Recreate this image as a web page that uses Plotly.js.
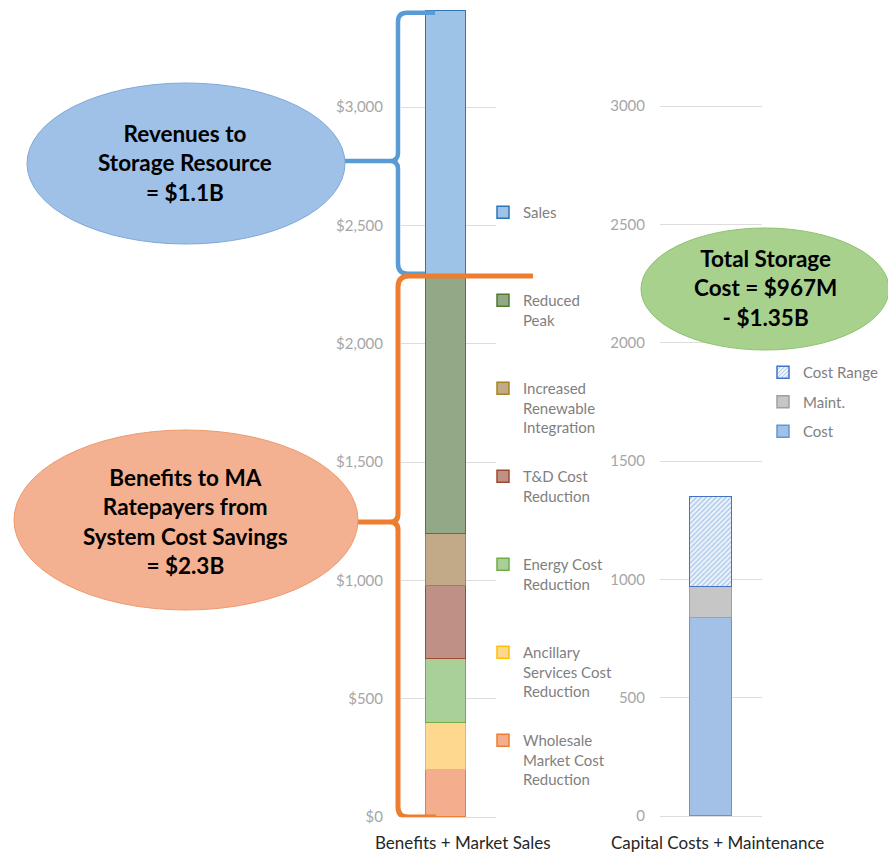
<!DOCTYPE html>
<html><head><meta charset="utf-8">
<script src="https://cdn.plot.ly/plotly-3.0.1.min.js"></script>
<style>html,body{margin:0;padding:0;background:#fff}#chart{width:888px;height:852px}</style>
</head><body><div id="chart"></div>
<script>
// ---------------- data ----------------
const benefitCategory = ['Benefits + Market Sales'];
const benefitNames = ['Wholesale Market Cost Reduction','Ancillary Services Cost Reduction','Energy Cost Reduction','T&D Cost Reduction','Increased Renewable Integration','Reduced Peak','Sales'];
const benefitLegendLabels = ['Wholesale<br>Market Cost<br>Reduction','Ancillary<br>Services Cost<br>Reduction','Energy Cost<br>Reduction','T&D Cost<br>Reduction','Increased<br>Renewable<br>Integration','Reduced<br>Peak','Sales'];
const benefitValues = [199, 197, 271, 308, 221, 1082, 1128];
const costCategory = ['Capital Costs + Maintenance'];
const costNames = ['Cost','Maint.','Cost Range'];
const costValues = [836, 131, 383];
const yTickValues = [0, 500, 1000, 1500, 2000, 2500, 3000];
const revenueCallout = 'Revenues to<br>Storage Resource<br>= $1.1B';
const benefitCallout = 'Benefits to MA<br>Ratepayers from<br>System Cost Savings<br>= $2.3B';
const costCallout = 'Total Storage<br>Cost = $967M<br>- $1.35B';

// ---------------- styles ----------------
const W = 888, H = 852;
const FONT = 'Lato, "Open Sans", sans-serif';
const benefitFill = ['#F4AE8E','#FFD88F','#AAD099','#BF9085','#C2AA88','#93A887','#9DC3E6'];
const benefitLine = ['#ED7D31','#FFC000','#70AD47','#9E4A2C','#A6841F','#4E7A2E','#2E75B6'];
const costFill = ['#A3C1E6','#C6C6C6','#E8F0FA'];
const costLine = ['#5B9BD5','#A0A0A0','#4472C4'];
const px = p => p / W;
const py = p => 1 - p / H;
const pad3 = s => { const n = s.split('<br>').length; return s + '<br> '.repeat(3 - n); };

const traces = [];
benefitValues.forEach((v, i) => {
  traces.push({
    type: 'bar', x: benefitCategory, y: [v], name: pad3(benefitLegendLabels[i]),
    xaxis: 'x', yaxis: 'y', legend: 'legend', legendgroup: 'b' + i,
    legendrank: 100 - i,
    width: 0.43,
    marker: {color: benefitFill[i], line: {color: benefitLine[i], width: 1.5}},
    hovertemplate: benefitNames[i] + ': $%{y}<extra></extra>'
  });
});
costValues.forEach((v, i) => {
  const t = {
    type: 'bar', x: costCategory, y: [v], name: costNames[i],
    xaxis: 'x2', yaxis: 'y2', legend: 'legend2', legendgroup: 'c' + i,
    legendrank: 100 - i,
    width: 0.41,
    marker: {color: costFill[i], line: {color: costLine[i], width: 1.5}},
    hovertemplate: costNames[i] + ': %{y}<extra></extra>'
  };
  if (costNames[i] === 'Cost Range') {
    t.marker.pattern = {shape: '/', fgcolor: '#9DC0E6', bgcolor: '#F0F5FC', size: 3.5, solidity: 0.35};
  }
  traces.push(t);
});

// brace geometry (x in paper from pixels, y in data units)
const Y_BOT_PX = 817, Y_TOP_PX = 10, Y_MAX = 3410;
const unitPerPx = Y_MAX / (Y_BOT_PX - Y_TOP_PX);
const benefitsTotal = benefitValues.slice(0, 6).reduce((a, b) => a + b, 0);
const grandTotal = benefitValues.reduce((a, b) => a + b, 0);
function brace(xv, yTop, yBot, yTip, xTopEnd, xBotEnd, xConn, rTop, rBot) {
  const P = v => (v / W).toFixed(5);
  const cT = rTop * unitPerPx, cB = rBot * unitPerPx, t = 8 * unitPerPx;
  return `M ${P(xTopEnd)},${yTop} L ${P(xv + rTop)},${yTop} Q ${P(xv)},${yTop} ${P(xv)},${yTop - cT} ` +
    `L ${P(xv)},${yTip + t} Q ${P(xv)},${yTip} ${P(xv - 8)},${yTip} Q ${P(xv)},${yTip} ${P(xv)},${yTip - t} ` +
    `L ${P(xv)},${yBot + cB} Q ${P(xv)},${yBot} ${P(xv + rBot)},${yBot} L ${P(xBotEnd)},${yBot} ` +
    `M ${P(xv - 8)},${yTip} L ${P(xConn)},${yTip}`;
}
const blueTip = (Y_BOT_PX - 161) * unitPerPx;
const orangeTip = (Y_BOT_PX - 522) * unitPerPx;

const shapes = [
  {type: 'path', xref: 'paper', yref: 'y', layer: 'above',
   path: brace(398, grandTotal - 8, benefitsTotal + 18, blueTip, 435, 425, 345, 9, 10),
   line: {color: '#5B9BD5', width: 4.5}},
  {type: 'path', xref: 'paper', yref: 'y', layer: 'above',
   path: brace(398, benefitsTotal + 8, 0, orangeTip, 533, 436, 356, 11, 10),
   line: {color: '#ED7D31', width: 5}},
  {type: 'circle', xref: 'paper', yref: 'paper', layer: 'above',
   x0: px(27), x1: px(345), y0: py(244), y1: py(83),
   fillcolor: '#9FC1E7', line: {color: '#7EA8DA', width: 1}},
  {type: 'circle', xref: 'paper', yref: 'paper', layer: 'above',
   x0: px(14), x1: px(358), y0: py(610), y1: py(430),
   fillcolor: '#F4B191', line: {color: '#EE9A6C', width: 1}},
  {type: 'circle', xref: 'paper', yref: 'paper', layer: 'above',
   x0: px(641), x1: px(889), y0: py(350), y1: py(228),
   fillcolor: '#A9D18E', line: {color: '#8DC26F', width: 1}}
];

const calloutFont = {family: FONT, size: 22.5, color: '#000', weight: 'bold'};
const ann = (x, y, text, font) => ({xref: 'paper', yref: 'paper', x: px(x), y: py(y), xanchor: 'center', yanchor: 'middle', text: text, showarrow: false, font: font, align: 'center'});
const annotations = [
  ann(185, 163, revenueCallout, calloutFont),
  ann(185, 521, benefitCallout, calloutFont),
  ann(765, 288, costCallout, calloutFont),
  ann(463, 842, benefitCategory[0], {family: FONT, size: 17, color: '#262626'}),
  ann(717, 842, costCategory[0], {family: FONT, size: 17, color: '#262626'})
];

const yCommon = {
  range: [0, Y_MAX], tickmode: 'array', tickvals: yTickValues,
  showgrid: true, gridcolor: '#DDDDDD', gridwidth: 1,
  zeroline: true, zerolinecolor: '#DDDDDD', zerolinewidth: 1,
  showline: false, ticks: '', fixedrange: true,
  tickfont: {family: FONT, size: 15, color: '#A6A6A6'}
};
const xCommon = {showticklabels: false, showgrid: false, zeroline: false, showline: false, ticks: '', fixedrange: true, type: 'category'};

const layout = {
  width: W, height: H,
  margin: {l: 0, r: 0, t: 0, b: 0, pad: 0},
  paper_bgcolor: '#FFFFFF', plot_bgcolor: 'rgba(0,0,0,0)',
  barmode: 'stack', bargap: 0,
  font: {family: FONT, color: '#7F7F7F'},
  showlegend: true,
  xaxis: Object.assign({}, xCommon, {domain: [px(401), px(496)], range: [-0.474, 0.526], anchor: 'y'}),
  yaxis: Object.assign({}, yCommon, {domain: [py(Y_BOT_PX), py(Y_TOP_PX)], anchor: 'x', tickformat: '$,d', ticklabelstandoff: 17}),
  xaxis2: Object.assign({}, xCommon, {domain: [px(660), px(762)], range: [-0.5, 0.5], anchor: 'y2'}),
  yaxis2: Object.assign({}, yCommon, {domain: [py(816), py(816 - (Y_BOT_PX - Y_TOP_PX))], anchor: 'x2', tickformat: 'd', ticklabelstandoff: 14}),
  legend: {x: px(483), xanchor: 'left', y: py(196), yanchor: 'top', traceorder: 'grouped', tracegroupgap: 26.5, valign: 'top', itemwidth: 30,
           font: {family: FONT, size: 15, color: '#7F7F7F'}, bgcolor: 'rgba(0,0,0,0)', borderwidth: 0},
  legend2: {x: px(763), xanchor: 'left', y: py(356), yanchor: 'top', traceorder: 'grouped', tracegroupgap: 7, valign: 'top', itemwidth: 30,
            font: {family: FONT, size: 15, color: '#7F7F7F'}, bgcolor: 'rgba(0,0,0,0)', borderwidth: 0},
  shapes: shapes,
  annotations: annotations
};

Plotly.newPlot('chart', traces, layout, {displayModeBar: false});
</script>
</body></html>
